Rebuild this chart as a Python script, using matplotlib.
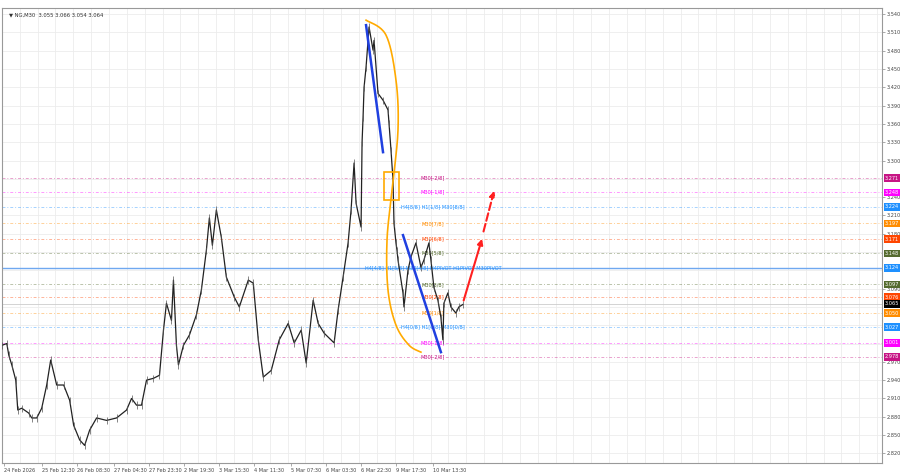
import matplotlib
matplotlib.use("Agg")
import matplotlib.pyplot as plt
import numpy as np
from matplotlib.patches import Rectangle

bars = [0,5,7,10,14,16,20,27,30,35,
        40,45,49,55,62,68,72,78,83,88,
        95,105,115,125,130,135,140,145,152,158,
        162,165,170,172,175,177,182,188,195,200,
        205,208,211,215,220,225,233,238,247,252,
        257,262,270,278,287,293,300,305,312,317,
        323,333,337,342,347,350,353,355,360,361,
        362,363,365,368,372,373,377,382,387,388,
        390,392,393,395,396,397,402,403,407,410,
        415,420,423,428,430,433,437,440,442,443,
        447,450,455,458,462]
close = [2.997,3.000,2.981,2.965,2.940,2.891,2.894,2.886,2.878,2.878,
         2.894,2.932,2.973,2.932,2.932,2.907,2.866,2.842,2.833,2.858,
         2.878,2.874,2.878,2.891,2.910,2.899,2.899,2.940,2.943,2.948,
         3.022,3.066,3.038,3.104,2.997,2.965,2.997,3.014,3.047,3.088,
         3.153,3.206,3.161,3.219,3.174,3.109,3.076,3.060,3.104,3.099,
         3.006,2.945,2.956,3.006,3.033,3.001,3.022,2.968,3.071,3.033,
         3.017,3.001,3.055,3.109,3.165,3.219,3.296,3.230,3.191,3.330,
         3.371,3.420,3.453,3.519,3.481,3.497,3.410,3.399,3.383,3.361,
         3.317,3.268,3.197,3.165,3.153,3.137,3.083,3.060,3.120,3.142,
         3.165,3.125,3.137,3.165,3.137,3.092,3.071,3.043,3.006,3.066,
         3.083,3.060,3.050,3.060,3.064]

levels = [3.271,3.248,3.224,3.197,3.171,3.148,3.124,3.097,3.076,3.065,3.050,3.027,3.001,2.978]
level_colors = ['#c71585','#ff00ff','#1e90ff','#ff8c00','#ff4500','#556b2f','#1e90ff','#556b2f',
                '#ff4500','#000000','#ff8c00','#1e90ff','#ff00ff','#c71585']
level_texts = ['M30[-2/8]','M30[-1/8]','H4[8/8] H1[1/8] M30[8/8]','M30[7/8]','M30[6/8]','M30[5/8]',
               'H4[4/8] H1[5/8] M30[4/8] H4PIVOT H1PIVOT M30PIVOT','M30[3/8]','M30[2/8]','',
               'M30[1/8]','H4[0/8] H1[0/8] M30[0/8]','M30[-1/8]','M30[-2/8]']
xtick_pos = [2,40,75,112,147,183,218,253,290,325,360,395,432]
xtick_labels = ['24 Feb 2026','25 Feb 12:30','26 Feb 08:30','27 Feb 04:30','27 Feb 23:30','2 Mar 19:30',
                '3 Mar 15:30','4 Mar 11:30','5 Mar 07:30','6 Mar 03:30','6 Mar 22:30','9 Mar 17:30','10 Mar 13:30']

fig = plt.figure(figsize=(9,4.74), dpi=100)
ax = fig.add_axes([0.002, 0.023, 0.98-0.002, 0.96])
ax.set_xlim(0, 882)
ax.set_ylim(2.804, 3.550)

for x in np.arange(0, 882, 17.9):
    ax.axvline(x, color='#ececec', lw=0.6, zorder=0)
yt = np.round(np.arange(2.820, 3.541, 0.030), 3)
for y in yt:
    ax.axhline(y, color='#ececec', lw=0.6, zorder=0)

for lv, c, t in zip(levels, level_colors, level_texts):
    if lv == 3.124:
        ax.axhline(lv, color='#6fa8f0', lw=1.0, zorder=1)
    elif c == '#000000':
        ax.axhline(lv, color='#cccccc', lw=0.6, zorder=1)
    else:
        ax.axhline(lv, color=c, lw=0.7, ls=(0,(3,2,1,2)), alpha=0.4, zorder=1)
    if t:
        ax.text(432, lv, t, fontsize=3.6, color=c, ha='center', va='center', zorder=3)
    ax.text(885, lv, f'{lv:.3f}', fontsize=3.6, color='white', ha='left', va='center',
            clip_on=False, bbox=dict(boxstyle='square,pad=0.25', fc=c, ec='none'))

ax.plot(bars, close, color='#222222', lw=0.9, zorder=4)
ax.vlines(bars, np.array(close)-0.006, np.array(close)+0.006, color='#555555', lw=0.5, zorder=4)

def py(p):
    return 3.540 - (p-14)/610.0

def catmull(px, pyy, n=20):
    P = np.column_stack([px, pyy]).astype(float)
    P = np.vstack([P[0], P, P[-1]])
    out = []
    for i in range(1, len(P)-2):
        p0, p1, p2, p3 = P[i-1], P[i], P[i+1], P[i+2]
        for t in np.linspace(0, 1, n, endpoint=False):
            out.append(0.5*((2*p1) + (-p0+p2)*t + (2*p0-5*p1+4*p2-p3)*t**2 + (-p0+3*p1-3*p2+p3)*t**3))
    out.append(P[-2])
    return np.array(out)

cx = [365, 385, 395, 397, 391, 386, 387, 395, 408, 420]
cyp = [20, 35, 80, 130, 190, 240, 290, 325, 345, 352]
cur = catmull(cx, [py(v) for v in cyp])
ax.plot(cur[:,0], cur[:,1], color='#ffaa00', lw=1.2, zorder=5)
ax.add_patch(Rectangle((383, py(200)), 15, py(172)-py(200), fill=False, ec='#ffaa00', lw=1.2, zorder=5))
ax.plot([365,382],[py(25),py(152)], color='#2040e0', lw=1.8, zorder=5)
ax.plot([402,440],[py(235),py(352)], color='#2040e0', lw=1.8, zorder=5)
ax.annotate('', xy=(482,py(236)), xytext=(462,py(303)),
            arrowprops=dict(arrowstyle='-|>', color='#ff2020', lw=1.5, mutation_scale=8), zorder=6)
ax.annotate('', xy=(494,py(188)), xytext=(482,py(234)),
            arrowprops=dict(arrowstyle='-|>', color='#ff2020', lw=1.5, ls='--', mutation_scale=8), zorder=6)

ax.yaxis.tick_right()
shown = [y for y in yt if min(abs(y-l) for l in levels) > 0.007]
ax.set_yticks(shown)
ax.set_yticklabels([f'{y:.3f}' for y in shown], fontsize=3.6, color='#444444')
ax.set_xticks(xtick_pos)
ax.set_xticklabels(xtick_labels, fontsize=3.6, color='#444444', ha='left')
ax.tick_params(length=2, width=0.5, pad=1.5, colors='#888888', labelcolor='#444444')
for s in ax.spines.values():
    s.set_color('#999999'); s.set_linewidth(0.8)
ax.text(0.008, 0.99, '▼ NG,M30  3.055 3.066 3.054 3.064', transform=ax.transAxes, fontsize=3.8,
        color='#333333', va='top')
fig.savefig('out.png', dpi=100)
